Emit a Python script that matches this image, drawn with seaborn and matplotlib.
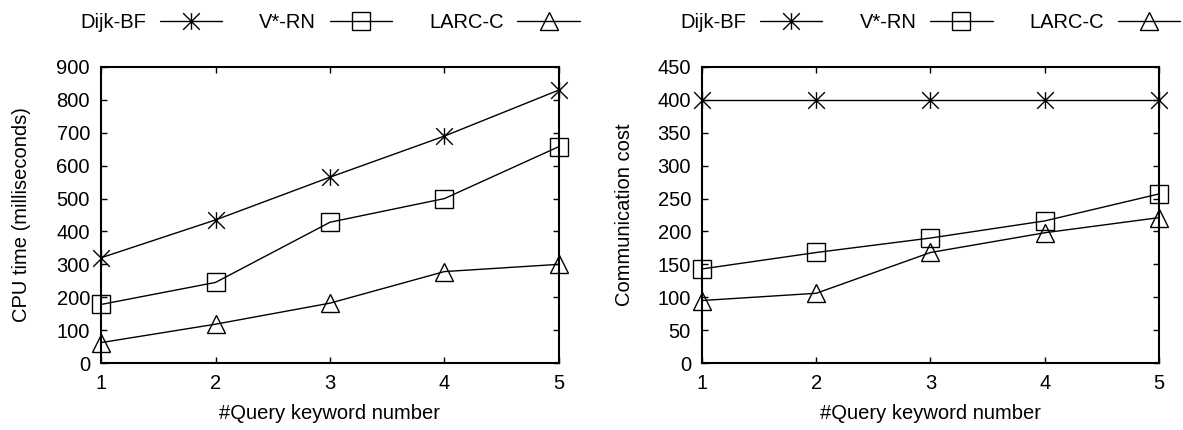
import numpy as np
import pandas as pd
import matplotlib
matplotlib.use("Agg")
import matplotlib.pyplot as plt
from matplotlib.path import Path
import seaborn as sns

# data
keywords = [1, 2, 3, 4, 5]
methods = ["Dijk-BF", "V*-RN", "LARC-C"]

cpu_dijk = [320, 435, 565, 690, 830]
cpu_vrn = [178, 245, 428, 500, 658]
cpu_larc = [62, 118, 182, 278, 300]

comm_dijk = [400, 400, 400, 400, 400]
comm_vrn = [143, 168, 190, 216, 257]
comm_larc = [95, 106, 168, 198, 221]


def long_df(series):
    rows = []
    for name, vals in zip(methods, series):
        for k, v in zip(keywords, vals):
            rows.append({"k": k, "value": v, "method": name})
    return pd.DataFrame(rows)


cpu_df = long_df([cpu_dijk, cpu_vrn, cpu_larc])
comm_df = long_df([comm_dijk, comm_vrn, comm_larc])

# gnuplot-like asterisk: vertical bar plus an X
star = Path(
    [(0, -1), (0, 1), (-1, -1), (1, 1), (-1, 1), (1, -1)],
    [Path.MOVETO, Path.LINETO, Path.MOVETO, Path.LINETO, Path.MOVETO, Path.LINETO],
)
markers = {"Dijk-BF": star, "V*-RN": "s", "LARC-C": "^"}
msizes = {"Dijk-BF": 12, "V*-RN": 12.5, "LARC-C": 13}

FS = 14.5

sns.set_theme(style="ticks")
plt.rcParams["font.family"] = ["Liberation Sans", "DejaVu Sans"]
plt.rcParams["font.size"] = FS
plt.rcParams["text.color"] = "black"
plt.rcParams["axes.labelcolor"] = "black"

fig = plt.figure(figsize=(11.83, 4.30), dpi=100)
ax1 = fig.add_axes([0.0854, 0.1558, 0.3871, 0.6884])
ax2 = fig.add_axes([0.5934, 0.1558, 0.3863, 0.6884])


def draw(ax, df, ylabel, ymax, ystep, ypad):
    sns.lineplot(data=df, x="k", y="value", hue="method", style="method",
                 markers=markers, dashes=False, palette=["black"] * 3,
                 ax=ax, legend=False, linewidth=1.0, markersize=12,
                 mfc="none", mec="black", mew=1.0, clip_on=False)
    for line, name in zip(ax.get_lines(), methods):
        line.set_markersize(msizes[name])
        line.set_markerfacecolor("none")
        line.set_markeredgecolor("black")
    ax.set_xlim(1, 5)
    ax.set_ylim(0, ymax)
    ax.set_xticks(keywords)
    ax.set_yticks(np.arange(0, ymax + 1, ystep))
    ax.set_xlabel("#Query keyword number", fontsize=FS, labelpad=8)
    ax.set_ylabel(ylabel, fontsize=FS, labelpad=ypad)
    ax.tick_params(direction="in", length=4.5, width=1.0, labelsize=FS,
                   top=True, right=True, pad=8, colors="black")
    for s in ax.spines.values():
        s.set_visible(True)
        s.set_linewidth(1.5)
        s.set_color("black")
    ax.set_facecolor("white")
    handles = ax.get_lines()[:3]
    ax.legend(handles, methods, ncol=3, markerfirst=False, frameon=False,
              loc="center", bbox_to_anchor=(0.5, 1.15),
              handlelength=3.1, columnspacing=1.85, handletextpad=0.67,
              fontsize=FS, borderaxespad=0)


draw(ax1, cpu_df, "CPU time (milliseconds)", 900, 100, 18)
draw(ax2, comm_df, "Communication cost", 450, 50, 17)

fig.savefig("out.png", dpi=100, facecolor="white")
